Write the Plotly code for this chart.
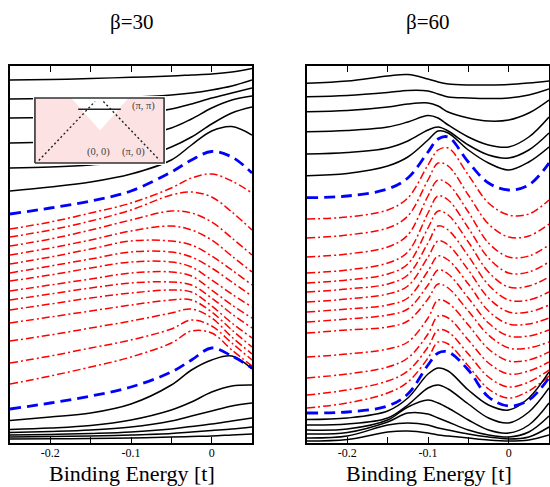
import plotly.graph_objects as go

# ---------------- data (intensity in arbitrary units, stacked EDCs) ----------------
panel_titles = ["β=30", "β=60"]
x_title = "Binding Energy [t]"
tick_vals = [-0.2, -0.1, 0.0]
tick_text = ["-0.2", "-0.1", "0"]
minor_vals = [-0.15, -0.05]

# beta = 30 panel
x_b30 = [-0.25, -0.2, -0.15, -0.1, -0.05, -0.025, 0.0, 0.025, 0.05]
b30_black_top = [
    [363, 363.5, 364.5, 365.7, 367, 368, 369, 371, 374.5],
    [344, 344.5, 345, 345.8, 348, 350, 353, 357, 363],
    [325, 325.5, 326.5, 328.5, 334, 339, 345, 350, 355],
    [300, 301, 303, 306, 315, 324, 335, 343, 347],
    [275, 276, 278, 282, 296, 306, 319, 330, 336],
    [252, 256, 261, 269, 283, 298, 312, 316.5, 308],
]
b30_blue_top = [229, 235, 242, 252, 271, 283, 291.5, 286, 270]
b30_red = [
    [214, 221, 230, 240, 255, 265, 269, 262, 250],
    [206, 213, 222, 233, 248, 251, 246, 231, 213],
    [197, 204, 213, 223, 232, 230, 221, 205, 188],
    [188, 195, 203, 212, 217, 213, 203, 187, 171],
    [179, 186, 194, 202, 202, 198, 187, 173, 158],
    [170, 177, 184, 191, 191, 186, 175, 161, 147],
    [162, 168, 175, 181, 181, 176, 163, 149, 136],
    [152, 158, 164, 170, 171, 167, 153, 138, 125],
    [143, 149, 155, 160, 161, 158, 145, 129, 115],
    [133, 139, 145, 150, 153, 151, 137, 120, 105],
    [120, 126, 132, 138, 143, 143, 131, 113, 96],
    [102, 108, 115, 122, 130, 134, 125, 106, 89],
    [80, 87, 95, 103, 114, 123, 117, 100, 83],
    [59, 67, 76, 86, 100, 112, 110, 93, 77],
]
b30_blue_bot = [34, 40, 47, 56, 71, 83, 95, 87, 75]
b30_black_bot = [
    [22.5, 26, 30, 39, 58, 73, 83, 87, 74],
    [13.5, 15, 17.5, 23, 33, 41, 51, 57, 58],
    [10.5, 11.5, 13, 16, 22, 27, 32, 37, 40],
    [8, 8.5, 9.5, 11, 14, 16.5, 19, 22, 25],
    [6, 6.5, 7, 8, 9.5, 11, 12.5, 14, 16],
    [4, 4.2, 4.5, 5, 6, 6.5, 7, 8, 9],
]

# beta = 60 panel
x_b60 = [-0.25, -0.2, -0.15, -0.125, -0.1, -0.0875, -0.075, -0.05, -0.025, 0.0, 0.025, 0.05]
b60_black_top = [
    [359.7, 362, 367, 368.5, 364, 361, 359, 358, 358, 358.5, 360, 362],
    [346.3, 347.5, 350.5, 352.5, 352, 349, 346, 345, 344.5, 345, 348, 354],
    [331.3, 332.5, 336, 339, 340, 337, 331, 325, 322, 323, 330, 343],
    [311.3, 312.5, 316, 321, 327.5, 325, 318, 306, 298, 296, 306, 326],
    [289, 290.5, 295, 302, 313, 316, 312, 298, 288, 285, 293, 310],
    [267.3, 269.5, 277, 286, 303, 312, 310, 293, 280, 273, 281, 296],
]
b60_blue_top = [245.3, 247, 254, 265, 291, 304, 306, 281, 260, 253, 258, 280]
b60_red = [
    [224, 226, 233, 245, 278, 293, 295, 268, 240, 228, 229, 243],
    [205, 208, 215, 227, 263, 280, 277, 248, 219, 206, 207, 219],
    [186, 189, 196, 208, 247, 263, 259, 231, 200, 186, 187, 198],
    [170, 173, 180, 191, 230, 247, 243, 215, 185, 170, 171, 181],
    [160, 163, 169, 179, 215, 232, 228, 201, 171, 156, 157, 166],
    [151, 154, 159, 168, 200, 217, 213, 187, 158, 143, 143, 151],
    [141, 144, 149, 157, 186, 202, 198, 173, 145, 131, 131, 138],
    [131, 134, 138, 145, 172, 187, 183, 159, 132, 119, 119, 125],
    [121, 124, 128, 134, 158, 173, 169, 145, 120, 107, 107, 113],
    [110, 113, 116, 122, 144, 159, 155, 132, 108, 95, 95, 101],
    [86, 89, 94, 101, 125, 143, 140, 118, 94, 82, 83, 91],
    [65, 69, 76, 85, 109, 127, 125, 103, 80, 69, 72, 81],
    [48, 53, 62, 72, 96, 113, 111, 89, 66, 56, 61, 73],
    [35, 40, 50, 61, 85, 101, 99, 77, 54, 45, 52, 67],
]
b60_blue_bot = [30, 31, 37, 49, 78, 90, 91, 73, 46, 37, 43, 65]
b60_black_bot = [
    [23.5, 25, 32, 45, 69, 75, 72, 53, 38, 33, 45, 71],
    [18, 19, 25, 38, 55, 58, 54, 39, 25, 20, 31, 55],
    [13, 14, 23, 36, 43, 40, 35, 23, 13, 10, 18, 40],
    [9, 10.5, 21, 30, 29, 25, 21, 13, 8, 6, 11, 27],
    [5, 7, 18, 20, 18, 15, 13, 9, 6, 4, 6, 16],
    [2, 3.5, 11, 12, 10, 8, 7, 5, 3, 2, 3, 8],
]

# inset (schematic Brillouin zone), unit-box coordinates
inset_box_x = [0, 1, 1, 0, 0]
inset_box_y = [0, 0, 1, 1, 0]
inset_white_x = [0.28, 0.725, 0.505, 0.28]
inset_white_y = [1.0, 1.0, 0.50, 1.0]
inset_bar_x = [0.335, 0.665]
inset_bar_y = [0.826, 0.826]
inset_dotL_x = [0.03, 0.465]
inset_dotL_y = [0.04, 0.945]
inset_dotR_x = [0.53, 0.965]
inset_dotR_y = [0.945, 0.045]
inset_labels = ["(π, π)", "(0, 0)", "(π, 0)"]
inset_label_x = [0.84, 0.49, 0.765]
inset_label_y = [0.87, 0.165, 0.165]

# ---------------- styling ----------------
BLACK = dict(color="black", width=1.5, shape="spline", smoothing=1.0)
BLUE = dict(color="rgb(0,0,255)", width=2.8, dash="11px,6px", shape="spline", smoothing=1.0)
RED = dict(color="rgb(255,0,0)", width=1.5, dash="8px,3px,2px,3px", shape="spline", smoothing=1.0)
FONT = "Liberation Serif, Times New Roman, serif"

fig = go.Figure()


def add_panel(xv, black_top, blue_top, reds, blue_bot, black_bot, xa, ya):
    for ys in reds:
        fig.add_trace(go.Scatter(x=xv, y=ys, mode="lines", line=RED, xaxis=xa, yaxis=ya,
                                 showlegend=False, hoverinfo="skip"))
    for ys in black_top + black_bot:
        fig.add_trace(go.Scatter(x=xv, y=ys, mode="lines", line=BLACK, xaxis=xa, yaxis=ya,
                                 showlegend=False, hoverinfo="skip"))
    for ys in (blue_top, blue_bot):
        fig.add_trace(go.Scatter(x=xv, y=ys, mode="lines", line=BLUE, xaxis=xa, yaxis=ya,
                                 showlegend=False, hoverinfo="skip"))


add_panel(x_b30, b30_black_top, b30_blue_top, b30_red, b30_blue_bot, b30_black_bot, "x", "y")
add_panel(x_b60, b60_black_top, b60_blue_top, b60_red, b60_blue_bot, b60_black_bot, "x2", "y2")

# inset
fig.add_trace(go.Scatter(x=inset_box_x, y=inset_box_y, mode="lines", fill="toself",
                         fillcolor="rgb(252,226,226)", line=dict(width=0),
                         xaxis="x3", yaxis="y3", showlegend=False, hoverinfo="skip"))
fig.add_trace(go.Scatter(x=inset_white_x, y=inset_white_y, mode="lines", fill="toself",
                         fillcolor="white", line=dict(width=0),
                         xaxis="x3", yaxis="y3", showlegend=False, hoverinfo="skip"))
fig.add_trace(go.Scatter(x=inset_box_x, y=inset_box_y, mode="lines",
                         line=dict(color="#333333", width=1.6),
                         xaxis="x3", yaxis="y3", showlegend=False, hoverinfo="skip"))
fig.add_trace(go.Scatter(x=inset_bar_x, y=inset_bar_y, mode="lines",
                         line=dict(color="#222222", width=1.4),
                         xaxis="x3", yaxis="y3", showlegend=False, hoverinfo="skip"))
for dx, dy in ((inset_dotL_x, inset_dotL_y), (inset_dotR_x, inset_dotR_y)):
    fig.add_trace(go.Scatter(x=dx, y=dy, mode="lines",
                             line=dict(color="#222222", width=1.4, dash="2px,2.5px"),
                             xaxis="x3", yaxis="y3", showlegend=False, hoverinfo="skip"))

annotations = []
for t, lx, ly in zip(inset_labels, inset_label_x, inset_label_y):
    annotations.append(dict(text=t, x=lx, y=ly, xref="x3", yref="y3", showarrow=False,
                            font=dict(family=FONT, size=10.5, color="#444444")))

# panel titles and x titles
for t, cx in zip(panel_titles, [131.5 / 550, 427.5 / 550]):
    annotations.append(dict(text=t, x=cx, y=(443 - 22) / 377, xref="paper", yref="paper",
                            showarrow=False, xanchor="center", yanchor="middle",
                            font=dict(family=FONT, size=21, color="black")))
for cx in (131.5 / 550, 428.5 / 550):
    annotations.append(dict(text=x_title, x=cx, y=(443 - 488) / 377, xref="paper", yref="paper",
                            showarrow=False, xanchor="center", yanchor="bottom",
                            font=dict(family=FONT, size=22, color="black")))

xaxis_common = dict(range=[-0.25, 0.05], showgrid=False, zeroline=False,
                    showline=True, linecolor="black", linewidth=1.5, mirror="allticks",
                    ticks="inside", ticklen=6, tickwidth=1, tickcolor="black",
                    tickvals=tick_vals, ticktext=tick_text,
                    minor=dict(tickvals=minor_vals, ticks="inside", ticklen=6,
                               tickwidth=1, tickcolor="black", showgrid=False),
                    tickfont=dict(family=FONT, size=12, color="black"),
                    ticklabelstandoff=-2)
yaxis_common = dict(range=[0, 377], showgrid=False, zeroline=False, showline=True,
                    linecolor="black", linewidth=1.5, mirror=True, ticks="",
                    showticklabels=False)

fig.update_layout(
    width=550, height=487,
    margin=dict(l=0, r=0, t=66, b=44, autoexpand=False),
    paper_bgcolor="white", plot_bgcolor="white",
    xaxis=dict(domain=[10 / 550, 252 / 550], anchor="y", **xaxis_common),
    yaxis=dict(domain=[0, 1], anchor="x", **yaxis_common),
    xaxis2=dict(domain=[307 / 550, 549 / 550], anchor="y2", **xaxis_common),
    yaxis2=dict(domain=[0, 1], anchor="x2", **yaxis_common),
    xaxis3=dict(domain=[33 / 550, 166 / 550], anchor="y3", range=[-0.015, 1.015], visible=False),
    yaxis3=dict(domain=[(443 - 165) / 377, (443 - 96) / 377], anchor="x3",
                range=[-0.03, 1.03], visible=False),
    annotations=annotations,
    showlegend=False,
)

fig.write_html("out.html", config={"displayModeBar": False},
               post_script="document.body.style.margin='0px';document.body.style.overflow='hidden';")
